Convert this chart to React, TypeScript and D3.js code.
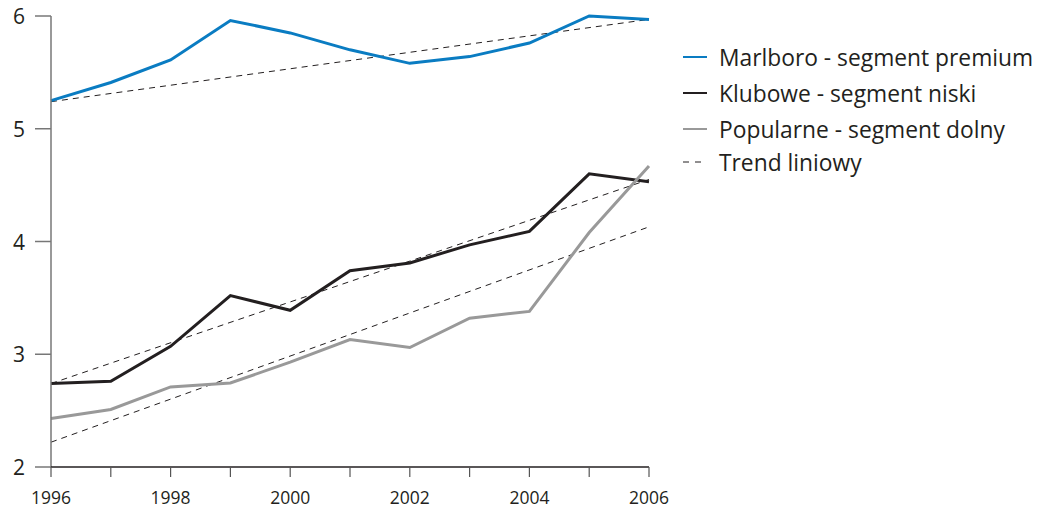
import React from "react";
import * as d3 from "d3";

const years = [1996, 1997, 1998, 1999, 2000, 2001, 2002, 2003, 2004, 2005, 2006];
const marlboro = [5.25, 5.41, 5.61, 5.96, 5.85, 5.7, 5.58, 5.64, 5.76, 6.0, 5.97];
const klubowe = [2.74, 2.76, 3.07, 3.52, 3.39, 3.74, 3.81, 3.97, 4.09, 4.6, 4.53];
const popularne = [2.43, 2.51, 2.71, 2.745, 2.93, 3.13, 3.06, 3.32, 3.38, 4.08, 4.67];
// trend line endpoints [1996, 2006]
const trendMarlboro = [5.24, 5.97];
const trendKlubowe = [2.74, 4.55];
const trendPopularne = [2.22, 4.13];
const yTicks = [2, 3, 4, 5, 6];
const xLabelYears = [1996, 1998, 2000, 2002, 2004, 2006];
const legendLabels = [
  "Marlboro - segment premium",
  "Klubowe - segment niski",
  "Popularne - segment dolny",
  "Trend liniowy",
];

const W = 1040;
const H = 510;
const FONT = "'Open Sans', sans-serif";

export default function App() {
  const x = d3.scaleLinear().domain([1996, 2006]).range([51, 649]);
  const y = d3.scaleLinear().domain([2, 6]).range([467, 16]);
  const line = d3
    .line<number>()
    .x((_, i) => x(years[i]))
    .y((d) => y(d));

  const series = [
    { data: marlboro, color: "#0a7cc2" },
    { data: klubowe, color: "#231f20" },
    { data: popularne, color: "#999999" },
  ];
  const trends = [trendMarlboro, trendKlubowe, trendPopularne];
  const legendColors = ["#0a7cc2", "#231f20", "#999999"];
  const legendY = [57, 93, 129, 162];

  return (
    <svg
      width={W}
      height={H}
      style={{ position: "absolute", left: 0, top: 0, fontFamily: FONT }}
    >
      {/* trend lines */}
      {trends.map((t, i) => (
        <line
          key={"t" + i}
          x1={x(1996)}
          x2={x(2006)}
          y1={y(t[0])}
          y2={y(t[1])}
          stroke="#231f20"
          strokeWidth={1}
          strokeDasharray="6 5"
        />
      ))}
      {/* series */}
      {series.map((s, i) => (
        <path
          key={"s" + i}
          d={line(s.data) || ""}
          fill="none"
          stroke={s.color}
          strokeWidth={3}
          strokeLinejoin="miter"
        />
      ))}
      {/* y axis */}
      <line x1={51} x2={51} y1={y(6)} y2={y(2)} stroke="#777" strokeWidth={1.5} />
      {yTicks.map((t) => (
        <g key={"y" + t}>
          <line x1={35} x2={51} y1={y(t)} y2={y(t)} stroke="#777" strokeWidth={1.5} />
          <text
            x={25}
            y={y(t)}
            textAnchor="end"
            dominantBaseline="central"
            fontSize={21}
            fill="#231f20"
          >
            {t}
          </text>
        </g>
      ))}
      {/* x axis */}
      <line x1={x(1996)} x2={x(2006)} y1={467} y2={467} stroke="#231f20" strokeWidth={1.5} />
      {years.map((yr) => (
        <line
          key={"xt" + yr}
          x1={x(yr)}
          x2={x(yr)}
          y1={467}
          y2={477}
          stroke="#555"
          strokeWidth={1.2}
        />
      ))}
      {xLabelYears.map((yr) => (
        <text
          key={"xl" + yr}
          x={x(yr)}
          y={504}
          textAnchor="middle"
          fontSize={17.5}
          fill="#231f20"
        >
          {yr}
        </text>
      ))}
      {/* legend */}
      {legendLabels.map((lab, i) => (
        <g key={"lg" + i}>
          {i < 3 ? (
            <line
              x1={683}
              x2={707}
              y1={legendY[i]}
              y2={legendY[i]}
              stroke={legendColors[i]}
              strokeWidth={2}
            />
          ) : (
            <line
              x1={683}
              x2={707}
              y1={legendY[i]}
              y2={legendY[i]}
              stroke="#231f20"
              strokeWidth={1}
              strokeDasharray="6 6"
            />
          )}
          <text
            x={719}
            y={legendY[i]}
            dominantBaseline="central"
            fontSize={22.8}
            fill="#231f20"
          >
            {lab}
          </text>
        </g>
      ))}
    </svg>
  );
}
